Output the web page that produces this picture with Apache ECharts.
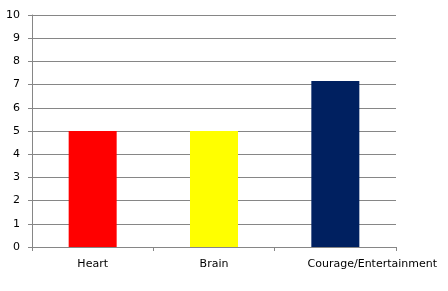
<!DOCTYPE html>
<html><head><meta charset="utf-8">
<script src="https://cdn.jsdelivr.net/npm/echarts@6/dist/echarts.min.js"></script>
<style>html,body{margin:0;padding:0;background:#fff}#c{width:448px;height:291px}</style>
</head><body><div id="c"></div>
<script>
const categories = ['Heart', 'Brain', 'Courage/Entertainment'];
const values = [5, 5, 7.15];
const barColors = ['#ff0000', '#ffff00', '#002060'];
const yTicks = [0, 1, 2, 3, 4, 5, 6, 7, 8, 9, 10];

const FONT = 'DejaVu Sans';
const chart = echarts.init(document.getElementById('c'), null, {renderer: 'canvas'});
chart.setOption({
  animation: false,
  grid: {left: 32, right: 52, top: 15, bottom: 44, containLabel: false},
  xAxis: {
    type: 'category',
    data: categories,
    axisLine: {lineStyle: {color: '#868686', width: 1}},
    axisTick: {show: true, length: 4, alignWithLabel: false, lineStyle: {color: '#868686'}},
    axisLabel: {
      interval: 0, color: '#000', fontFamily: FONT, fontSize: 11, margin: 12,
      formatter: function (v, i) { return i === categories.length - 1 ? '{s|}{v|' + v + '}' : v; },
      rich: {s: {width: 74}, v: {color: '#000', fontFamily: FONT, fontSize: 11}}
    }
  },
  yAxis: {
    type: 'value',
    min: yTicks[0], max: yTicks[yTicks.length - 1], interval: 1,
    axisLine: {show: true, lineStyle: {color: '#868686', width: 1}},
    axisTick: {show: true, length: 4, lineStyle: {color: '#868686'}},
    splitLine: {lineStyle: {color: '#868686', width: 1}},
    axisLabel: {color: '#000', fontFamily: FONT, fontSize: 11, margin: 12}
  },
  series: [{
    type: 'bar',
    barWidth: 48,
    data: values.map((v, i) => ({value: v, itemStyle: {color: barColors[i]}}))
  }]
});
</script></body></html>
